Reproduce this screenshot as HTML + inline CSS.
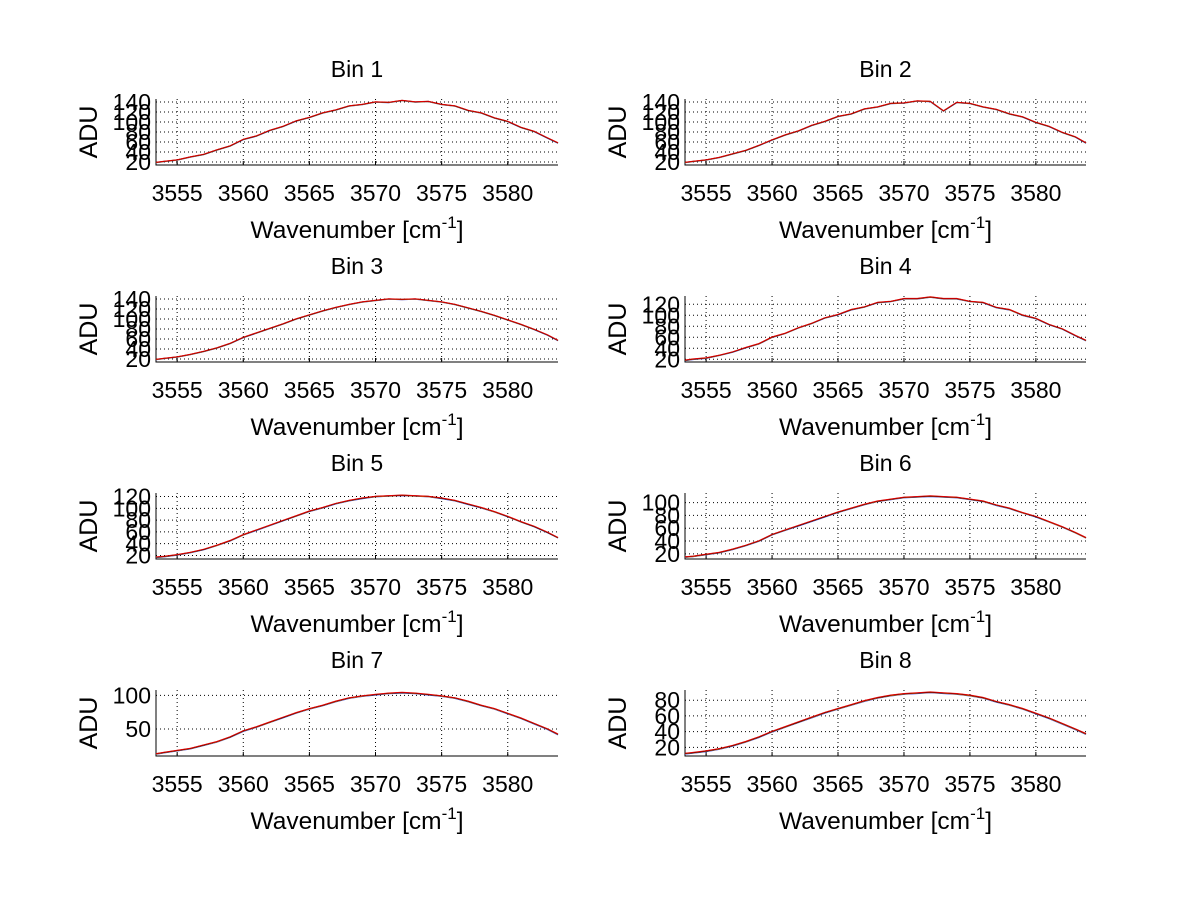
<!DOCTYPE html>
<html><head><meta charset="utf-8"><style>
html,body{margin:0;padding:0;background:#fff;}
svg{display:block;font-family:"Liberation Sans",sans-serif;}
</style></head><body>
<svg id="fig" width="1200" height="901" viewBox="0 0 1200 901" xmlns="http://www.w3.org/2000/svg">
<rect width="1200" height="901" fill="#fff"/>
</svg>
<script>
const wavenumbers = [3553.4,3554,3555,3556,3557,3558,3559,3560,3561,3562,3563,3564,3565,3566,3567,3568,3569,3570,3571,3572,3573,3574,3575,3576,3577,3578,3579,3580,3581,3582,3583,3584];
const bin1 = [19,21,24,30,35,44,52,65,72,83,91,102,109,118,124,132,135,140,139,143,140,141,135,132,123,118,108,101,89,81,68,58];
const bin2 = [19,21,24,29,36,43,53,64,74,82,93,101,111,116,126,130,137,138,142,141,122,139,137,130,125,116,110,99,91,79,70,58];
const bin3 = [19,21,24,29,35,42,51,63,72,81,90,100,108,116,123,129,134,137,140,139,140,137,134,129,122,115,107,98,89,79,68,57];
const bin4 = [18,20,22,27,33,41,48,60,67,77,85,95,101,110,115,123,125,130,130,133,130,130,125,123,114,110,100,94,83,75,63,54];
const bin5 = [17,18,21,25,30,37,45,55,63,71,79,87,95,101,108,113,117,120,121,122,121,120,117,113,107,101,94,86,77,69,59,50];
const bin6 = [15,16,19,22,27,33,40,50,57,64,71,78,85,91,97,102,105,108,109,110,109,108,105,102,96,91,84,78,70,62,53,45];
const bin7 = [13,15,18,21,26,31,38,47,53,60,67,74,80,85,91,96,99,101,103,104,103,101,99,96,91,85,80,73,66,58,50,42];
const bin8 = [12,13,15,18,22,27,33,40,46,52,58,64,69,74,79,83,86,88,89,90,89,88,86,83,78,74,69,63,57,50,43,37];
const xTicks = [3555,3560,3565,3570,3575,3580];
const titles = ["Bin 1","Bin 2","Bin 3","Bin 4","Bin 5","Bin 6","Bin 7","Bin 8"];
const yTicks = [[20,40,60,80,100,120,140],[20,40,60,80,100,120,140],[20,40,60,80,100,120,140],[20,40,60,80,100,120],[20,40,60,80,100,120],[20,40,60,80,100],[50,100],[20,40,60,80]];
const yLims = [[14,146],[14,146],[14,146],[15,135],[14,126],[12,115],[10,108],[9,93]];
const series = [bin1,bin2,bin3,bin4,bin5,bin6,bin7,bin8];
const xLim = [3553.4,3583.8];

const NS = "http://www.w3.org/2000/svg";
const svg = document.getElementById('fig');
function mk(tag, attrs, parent){const e=document.createElementNS(NS,tag);for(const k in attrs)e.setAttribute(k,attrs[k]);(parent||svg).appendChild(e);return e;}

for(let i=0;i<8;i++){
  const col=i%2,row=Math.floor(i/2);
  const L=col?685:156,R=col?1086:558,T=99+row*197,B=165+row*197;
  const g=mk('g',{});
  
  
  const xs=v=>L+(v-xLim[0])/(xLim[1]-xLim[0])*(R-L);
  const ys=v=>B-(v-yLims[i][0])/(yLims[i][1]-yLims[i][0])*(B-T);
  xTicks.forEach(t=>{
    const gl=mk('line',{x1:xs(t),x2:xs(t),y1:T,y2:B,stroke:'#000','stroke-width':1,'stroke-dasharray':'1,3'},g);
    
    
    mk('line',{x1:xs(t),x2:xs(t),y1:B,y2:B-4,stroke:'#000'},g);
    const tl=mk('text',{x:xs(t),y:B+36,'font-size':23,'text-anchor':'middle'},g);
    tl.textContent=t;
    
    
  });
  yTicks[i].forEach(t=>{
    const gl=mk('line',{x1:L,x2:R,y1:ys(t),y2:ys(t),stroke:'#000','stroke-width':1,'stroke-dasharray':'1,3'},g);
    
    
    const tl=mk('text',{x:L-5,y:ys(t)+8,'font-size':23,'text-anchor':'end'},g);
    tl.textContent=t;
    
    
  });
  const ax=mk('path',{d:`M${L},${T}V${B}H${R}`,fill:'none',stroke:'#000','stroke-width':1},g);
  
  
  const d=series[i];
  const colors=['#1f3cff','#ff8c00','#000','#e00000'];
  colors.forEach((c,k)=>{
    let p='';
    d.forEach((v,j)=>{
      let x=wavenumbers[j];
      if(x>xLim[1]) x=xLim[1];
      p+=(j?'L':'M')+xs(x).toFixed(1)+','+ys(v+(k-1.5)*0.4).toFixed(1);
    });
    const ln=mk('path',{d:p,fill:'none',stroke:c,'stroke-width':1},g);
    
    
  });
  const tt=mk('text',{x:(L+R)/2,y:T-22,'font-size':23,'text-anchor':'middle'},g);
  tt.textContent=titles[i];
  
  
  const xl=mk('text',{x:(L+R)/2,y:B+73,'font-size':24.5,'text-anchor':'middle'},g);
  xl.innerHTML='Wavenumber [cm<tspan dy="-10" font-size="17">-1</tspan><tspan dy="10">]</tspan>';
  
  
  const yl=mk('text',{x:0,y:0,'font-size':25,'text-anchor':'middle',transform:`translate(${L-59},${(T+B)/2}) rotate(-90)`},g);
  yl.textContent='ADU';
  
  
}
</script>
</body></html>
